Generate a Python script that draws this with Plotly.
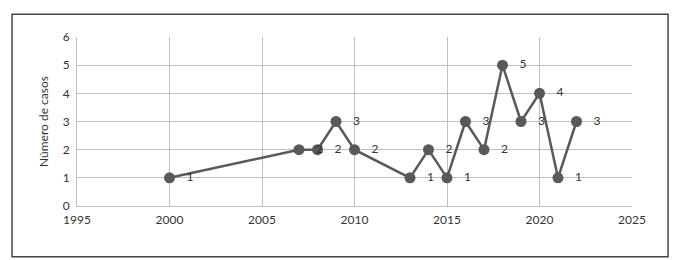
import plotly.graph_objects as go

years = [2000, 2007, 2008, 2009, 2010, 2013, 2014, 2015, 2016, 2017, 2018, 2019, 2020, 2021, 2022]
cases = [1, 2, 2, 3, 2, 1, 2, 1, 3, 2, 5, 3, 4, 1, 3]
y_title = "Número de casos"

fig = go.Figure()
fig.add_trace(go.Scatter(
    x=years, y=cases, mode="lines+markers+text",
    line=dict(color="#595959", width=2.5),
    marker=dict(color="#595959", size=11),
    text=["   " + str(c) for c in cases],
    textposition="middle right",
    textfont=dict(family="Lato, sans-serif", size=12, color="#333333"),
    cliponaxis=False,
    showlegend=False,
))

fig.add_shape(type="rect", xref="paper", yref="paper",
              x0=-0.117, x1=1.065, y0=-0.301, y1=1.134,
              line=dict(color="#444444", width=1.5), layer="below")

fig.update_layout(
    width=675, height=260,
    margin=dict(l=77, r=43, t=37, b=54),
    paper_bgcolor="white", plot_bgcolor="white",
    font=dict(family="Lato, sans-serif", size=12, color="#333333"),
    xaxis=dict(range=[1995, 2025], dtick=5, tick0=1995,
               showgrid=True, gridcolor="#bfbfbf", gridwidth=1,
               zeroline=False, showline=True, linecolor="#bfbfbf",
               ticks="outside", ticklen=3, tickcolor="rgba(0,0,0,0)",
               tickfont=dict(size=12)),
    yaxis=dict(range=[0, 6], dtick=1, showgrid=True, gridcolor="#bfbfbf",
               gridwidth=1, zeroline=False, showline=True, linecolor="#bfbfbf",
               ticks="outside", ticklen=4, tickcolor="rgba(0,0,0,0)",
               tickfont=dict(size=12),
               title=dict(text=y_title, font=dict(size=12), standoff=11)),
)

fig.write_html("out.html", config={"displayModeBar": False},
               post_script="document.body.style.margin='0';document.body.style.padding='0';")
